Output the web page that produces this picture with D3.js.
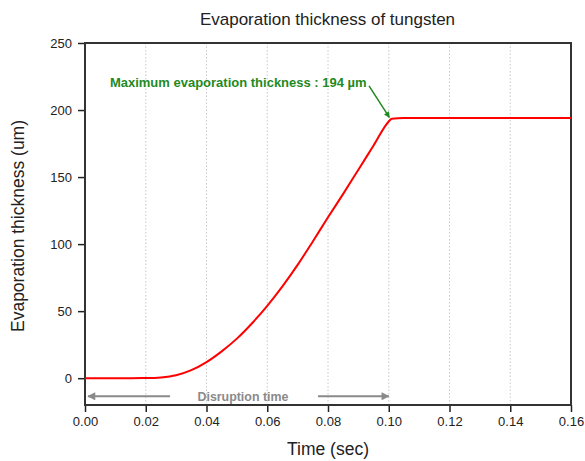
<!DOCTYPE html>
<html>
<head>
<meta charset="utf-8">
<script src="https://cdn.jsdelivr.net/npm/d3@7"></script>
<style>
  body { margin: 0; background: #fff; }
  text { font-family: "Liberation Sans", Arial, sans-serif; }
</style>
</head>
<body>
<div id="chart"></div>
<script>
// data
var timeSec = [0, 0.005, 0.01, 0.015, 0.02, 0.025, 0.03, 0.035, 0.04, 0.045, 0.05, 0.055, 0.06,
  0.065, 0.07, 0.075, 0.08, 0.085, 0.09, 0.095, 0.1, 0.101, 0.105, 0.11, 0.12, 0.13, 0.14, 0.15, 0.16];
var thickness = [0, 0, 0, 0, 0.1, 0.6, 2.2, 6, 12, 20, 29.5, 41, 54,
  68.5, 84.5, 102, 120, 137.5, 155.5, 173.5, 191.5, 193.5, 194, 194, 194, 194, 194, 194, 194];
var xTicks = [0, 0.02, 0.04, 0.06, 0.08, 0.1, 0.12, 0.14, 0.16];
var yTicks = [0, 50, 100, 150, 200, 250];
var maxLabel = "Maximum evaporation thickness : 194 \u00b5m";
var disruptLabel = "Disruption time";

var W = 585, H = 461;
var margin = {top: 43, right: 14, bottom: 56, left: 85};
var width = W - margin.left - margin.right,
  height = H - margin.top - margin.bottom;

var svg = d3.select("#chart").append("svg")
  .attr("width", W)
  .attr("height", H);

var defs = svg.append("defs");
function marker(id, color) {
  defs.append("marker")
    .attr("id", id)
    .attr("viewBox", "0 0 10 10")
    .attr("refX", 9).attr("refY", 5)
    .attr("markerWidth", 4.5).attr("markerHeight", 4)
    .attr("orient", "auto")
    .append("path")
    .attr("d", "M0,0L10,5L0,10z")
    .attr("fill", color);
}
marker("arrGray", "#8a8a8a");
marker("arrGreen", "#1f8a1f");

var g = svg.append("g")
  .attr("transform", "translate(" + margin.left + "," + margin.top + ")");

var x = d3.scaleLinear().domain([0, 0.16]).range([0, width]);
var y = d3.scaleLinear().domain([-20, 250]).range([height, 0]);

// vertical dotted grid
g.selectAll(".grid")
  .data(xTicks.slice(1, -1))
  .enter().append("line")
  .attr("class", "grid")
  .attr("x1", function(d) { return x(d); })
  .attr("x2", function(d) { return x(d); })
  .attr("y1", 0).attr("y2", height)
  .attr("stroke", "#c8c8c8")
  .attr("stroke-width", 1)
  .attr("stroke-dasharray", "1.5,2");

// axes
var xAxis = g.append("g")
  .attr("transform", "translate(0," + height + ")")
  .call(d3.axisBottom(x).tickValues(xTicks).tickSize(7).tickPadding(5)
    .tickFormat(d3.format(".2f")));
var yAxis = g.append("g")
  .call(d3.axisLeft(y).tickValues(yTicks).tickSize(7).tickPadding(6));
[xAxis, yAxis].forEach(function(a) {
  a.select(".domain").remove();
  a.selectAll("line").attr("stroke", "#222").attr("stroke-width", 1.5);
  a.selectAll("text").attr("fill", "#222").style("font-size", "13px");
});

// frame
g.append("rect")
  .attr("width", width).attr("height", height)
  .attr("fill", "none")
  .attr("stroke", "#333")
  .attr("stroke-width", 2);

// curve
var line = d3.line()
  .x(function(d, i) { return x(timeSec[i]); })
  .y(function(d) { return y(d); })
  .curve(d3.curveMonotoneX);
g.append("path")
  .datum(thickness)
  .attr("d", line)
  .attr("fill", "none")
  .attr("stroke", "#ff0000")
  .attr("stroke-width", 2);

// disruption time annotation
var yD = -13.5;
g.append("line")
  .attr("x1", x(0.028)).attr("x2", x(0.001))
  .attr("y1", y(yD)).attr("y2", y(yD))
  .attr("stroke", "#8a8a8a").attr("stroke-width", 2)
  .attr("marker-end", "url(#arrGray)");
g.append("line")
  .attr("x1", x(0.0767)).attr("x2", x(0.1))
  .attr("y1", y(yD)).attr("y2", y(yD))
  .attr("stroke", "#8a8a8a").attr("stroke-width", 2)
  .attr("marker-end", "url(#arrGray)");
g.append("text")
  .attr("x", x(0.052)).attr("y", y(yD))
  .attr("dy", "0.35em")
  .attr("text-anchor", "middle")
  .attr("fill", "#8a8a8a")
  .style("font-size", "12.4px")
  .style("font-weight", "bold")
  .text(disruptLabel);

// max thickness annotation
g.append("text")
  .attr("x", x(0.0082)).attr("y", y(220.5))
  .attr("dy", "0.35em")
  .attr("fill", "#1f8a1f")
  .style("font-size", "13px")
  .style("font-weight", "bold")
  .text(maxLabel);
g.append("line")
  .attr("x1", x(0.0935)).attr("y1", y(218))
  .attr("x2", x(0.1002)).attr("y2", y(194.5))
  .attr("stroke", "#1f8a1f").attr("stroke-width", 1.5)
  .attr("marker-end", "url(#arrGreen)");

// titles
svg.append("text")
  .attr("x", margin.left + width / 2 - 0.5).attr("y", 25)
  .attr("text-anchor", "middle")
  .attr("fill", "#222")
  .style("font-size", "17px")
  .text("Evaporation thickness of tungsten");
svg.append("text")
  .attr("x", margin.left + width / 2).attr("y", 455)
  .attr("text-anchor", "middle")
  .attr("fill", "#222")
  .style("font-size", "17.5px")
  .text("Time (sec)");
svg.append("text")
  .attr("transform", "translate(24," + (margin.top + height / 2 + 2) + ") rotate(-90)")
  .attr("text-anchor", "middle")
  .attr("fill", "#222")
  .style("font-size", "17.5px")
  .text("Evaporation thickness (um)");
</script>
</body>
</html>
